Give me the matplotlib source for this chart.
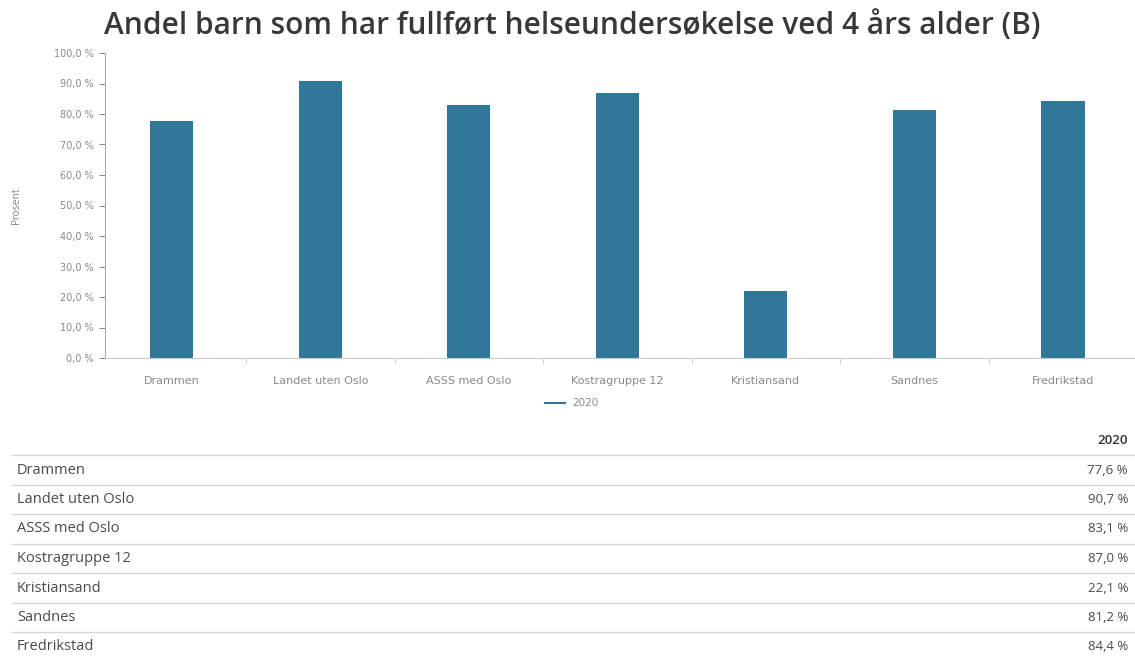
import matplotlib.pyplot as plt
import numpy as np

# Data
categories = ['Drammen', 'Landet uten Oslo', 'ASSS med Oslo', 'Kostragruppe 12',
              'Kristiansand', 'Sandnes', 'Fredrikstad']
values_2020 = [77.6, 90.7, 83.1, 87.0, 22.1, 81.2, 84.4]
series_name = '2020'
yticks = list(range(0, 101, 10))

bar_color = '#30789a'
grey = '#8a8a8a'
small_font = ['DejaVu Sans']

W, H = 1135, 657
fig = plt.figure(figsize=(W / 100, H / 100), dpi=100)
plt.rcParams['font.family'] = ['Open Sans', 'DejaVu Sans']


def fx(px):
    return px / W


def fy(py):
    return 1 - py / H


# Chart area
ax = fig.add_axes([fx(105), fy(358), fx(1135 - 105), fy(53) - fy(358)])
x = np.arange(len(categories))
ax.bar(x, values_2020, width=0.29, color=bar_color, zorder=2)
ax.set_xlim(-0.45, len(categories) - 0.515)
ax.set_ylim(0, 100)
ax.set_yticks(yticks)
ax.set_yticklabels([f'{v:.1f} %'.replace('.', ',') for v in yticks],
                   fontsize=7, color=grey, family=small_font)
ax.set_xticks(x)
ax.set_xticklabels(categories, fontsize=8, color=grey, family=small_font)
ax.set_xticks(x[:-1] + 0.5, minor=True)
ax.tick_params(axis='x', which='major', length=0, pad=13)
ax.tick_params(axis='x', which='minor', length=4, color='#cccccc')
ax.tick_params(axis='y', length=4, color=grey, pad=4)
for s in ['top', 'right']:
    ax.spines[s].set_visible(False)
ax.spines['left'].set_color('#aaaaaa')
ax.spines['bottom'].set_color('#cccccc')
ax.set_ylabel('Prosent', fontsize=7, color=grey, labelpad=24, family=small_font)

# Title
fig.text(fx(572), fy(26), 'Andel barn som har fullført helseundersøkelse ved 4 års alder (B)',
         ha='center', va='center', fontsize=21.5, color='#383838', fontweight='semibold')

# Legend
fig.lines.append(plt.Line2D([fx(545), fx(565)], [fy(403), fy(403)],
                            transform=fig.transFigure, color=bar_color, lw=1.5))
fig.text(fx(572), fy(403), series_name, ha='left', va='center', fontsize=7.5, color=grey,
         family=small_font)

# Table under chart
row0 = 470
row_h = 29.5
text_col = '#4a4a4a'
fig.text(fx(1128), fy(441), series_name, ha='right', va='center', fontsize=9.5,
         color='#333333', fontweight='semibold')
for i, (cat, val) in enumerate(zip(categories, values_2020)):
    yc = row0 + i * row_h
    fig.text(fx(17), fy(yc), cat, ha='left', va='center', fontsize=10.5, color=text_col)
    fig.text(fx(1128), fy(yc), f'{val:.1f} %'.replace('.', ','), ha='right', va='center',
             fontsize=9.5, color=text_col)
    ly = yc - row_h / 2
    fig.lines.append(plt.Line2D([fx(12), fx(1135)], [fy(ly), fy(ly)],
                                transform=fig.transFigure, color='#d5d5d5', lw=1))

fig.savefig('out.png', dpi=100)
